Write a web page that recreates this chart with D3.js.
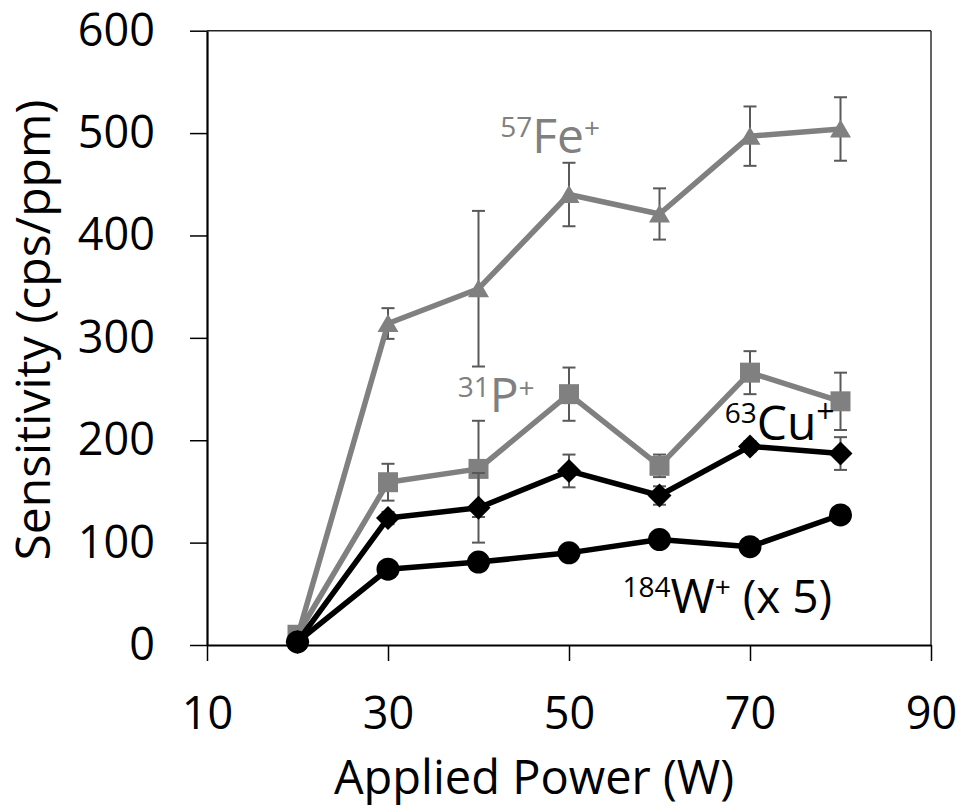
<!DOCTYPE html>
<meta charset="utf-8">
<head>
  <title>Sensitivity vs applied power</title>
</head>

<style>
body { margin: 0; background: #fff; }
text {
  font-family: "Open Sans", sans-serif;
}
.axis path, .axis line { stroke: #000; }
.axis text { font-size: 45px; fill: #000; font-family: "Open Sans", sans-serif; }
</style>

<body>
  <svg width="966" height="812"></svg>

  <script src="https://cdnjs.cloudflare.com/ajax/libs/d3/7.8.5/d3.min.js"></script>
  <script>
// applied power (W)
var power = [20, 30, 40, 50, 60, 70, 80];

// sensitivity (cps/ppm)
var fe    = [8, 314, 348, 440, 421, 497, 504];
var feErr = [0, 15, 76, 31, 25, 29, 31];
var p     = [10, 159, 172, 245, 175, 266, 238];
var pErr  = [0, 18, 47, 26, 11, 21, 28];
var cu    = [3, 124, 134, 170, 146, 194, 187];
var cuErr = [0, 6, 34, 16, 9, 5, 16];
var w     = [3, 74, 81, 90, 103, 96, 127];   // already x 5

var xTicks = [10, 30, 50, 70, 90];
var yTicks = [0, 100, 200, 300, 400, 500, 600];

var grey = '#808080';

var series = [
  { name: 'Fe', values: fe, err: feErr, color: grey, marker: 'triangle' },
  { name: 'P',  values: p,  err: pErr,  color: grey, marker: 'square' },
  { name: 'Cu', values: cu, err: cuErr, color: '#000', marker: 'diamond' },
  { name: 'W',  values: w,  err: null,  color: '#000', marker: 'circle' }
];

var svg = d3.select('svg');

var x = d3.scaleLinear().domain([10, 90]).range([207, 931]);
var y = d3.scaleLinear().domain([0, 600]).range([645, 30.7]);

// plot area border (top + right)
svg.append('line')
  .attr('x1', x(10)).attr('x2', x(90))
  .attr('y1', y(600)).attr('y2', y(600))
  .attr('stroke', '#222').attr('stroke-width', 1.4);
svg.append('line')
  .attr('x1', x(90)).attr('x2', x(90))
  .attr('y1', y(600)).attr('y2', y(0))
  .attr('stroke', '#222').attr('stroke-width', 1.4);

svg.append('g')
  .attr('class', 'axis')
  .attr('transform', 'translate(0,' + y(0) + ')')
  .call(d3.axisBottom(x).tickValues(xTicks).tickSize(16).tickSizeOuter(0).tickPadding(36));

svg.append('g')
  .attr('class', 'axis')
  .attr('transform', 'translate(' + x(10) + ',0)')
  .call(d3.axisLeft(y).tickValues(yTicks).tickSize(17).tickSizeOuter(0).tickPadding(35));

svg.selectAll('.axis .domain').attr('stroke-width', 2.2);
svg.selectAll('.axis .tick line').attr('stroke-width', 1.5);

// axis titles
svg.append('text')
  .attr('x', 534).attr('y', 794)
  .attr('text-anchor', 'middle')
  .style('font-size', '47px')
  .text('Applied Power (W)');

svg.append('text')
  .attr('transform', 'translate(50,330) rotate(-90)')
  .attr('text-anchor', 'middle')
  .style('font-size', '48px')
  .text('Sensitivity (cps/ppm)');

var line = d3.line()
  .x(function(d) { return x(d.x); })
  .y(function(d) { return y(d.y); });

function markerPath(type) {
  if (type === 'triangle') return 'M0,-9.5L10.5,8.5L-10.5,8.5Z';
  if (type === 'square') return 'M-10,-10H10V10H-10Z';
  if (type === 'diamond') return 'M0,-12L12,0L0,12L-12,0Z';
  return d3.symbol(d3.symbolCircle, Math.PI * 11.5 * 11.5)();
}

series.forEach(function(s) {
  var pts = power.map(function(px, i) {
    return { x: px, y: s.values[i], e: s.err ? s.err[i] : 0 };
  });
  var g = svg.append('g').attr('class', 'series-' + s.name);

  // error bars
  var eb = g.selectAll('.err')
    .data(pts.filter(function(d) { return d.e > 0; }))
    .enter().append('g')
    .attr('stroke', '#595959')
    .attr('stroke-width', 2);
  eb.append('line')
    .attr('x1', function(d) { return x(d.x); })
    .attr('x2', function(d) { return x(d.x); })
    .attr('y1', function(d) { return y(d.y + d.e); })
    .attr('y2', function(d) { return y(d.y - d.e); });
  eb.append('line')
    .attr('x1', function(d) { return x(d.x) - 6.5; })
    .attr('x2', function(d) { return x(d.x) + 6.5; })
    .attr('y1', function(d) { return y(d.y + d.e); })
    .attr('y2', function(d) { return y(d.y + d.e); });
  eb.append('line')
    .attr('x1', function(d) { return x(d.x) - 6.5; })
    .attr('x2', function(d) { return x(d.x) + 6.5; })
    .attr('y1', function(d) { return y(d.y - d.e); })
    .attr('y2', function(d) { return y(d.y - d.e); });

  g.append('path')
    .datum(pts)
    .attr('d', line)
    .attr('fill', 'none')
    .attr('stroke', s.color)
    .attr('stroke-width', 5.5)
    .attr('stroke-linejoin', 'round');

  g.selectAll('.mk')
    .data(pts)
    .enter().append('path')
    .attr('transform', function(d) { return 'translate(' + x(d.x) + ',' + y(d.y) + ')'; })
    .attr('d', markerPath(s.marker))
    .attr('fill', s.color);
});

// series labels, positioned in data units
var labels = [
  { x: 42.4, y: 480.5, color: grey, parts: [['57', 28, -16], ['Fe', 48, 16], ['+', 28, -15]] },
  { x: 37.7, y: 228,   color: grey, parts: [['31', 28, -15], ['P', 48, 15], ['+', 28, -14]] },
  { x: 67.2, y: 200,   color: '#000', parts: [['63', 28, -17], ['Cu', 48, 17], ['+', 32, -17]] },
  { x: 55.9, y: 31,    color: '#000', parts: [['184', 28, -16], ['W', 48, 16], ['+', 28, -16], [' (x 5)', 46, 16]] }
];

labels.forEach(function(l) {
  var t = svg.append('text')
    .attr('x', x(l.x))
    .attr('y', y(l.y))
    .attr('fill', l.color);
  l.parts.forEach(function(pt) {
    t.append('tspan')
      .attr('dy', pt[2])
      .style('font-size', pt[1] + 'px')
      .text(pt[0]);
  });
});
  </script>
</body>
</html>
